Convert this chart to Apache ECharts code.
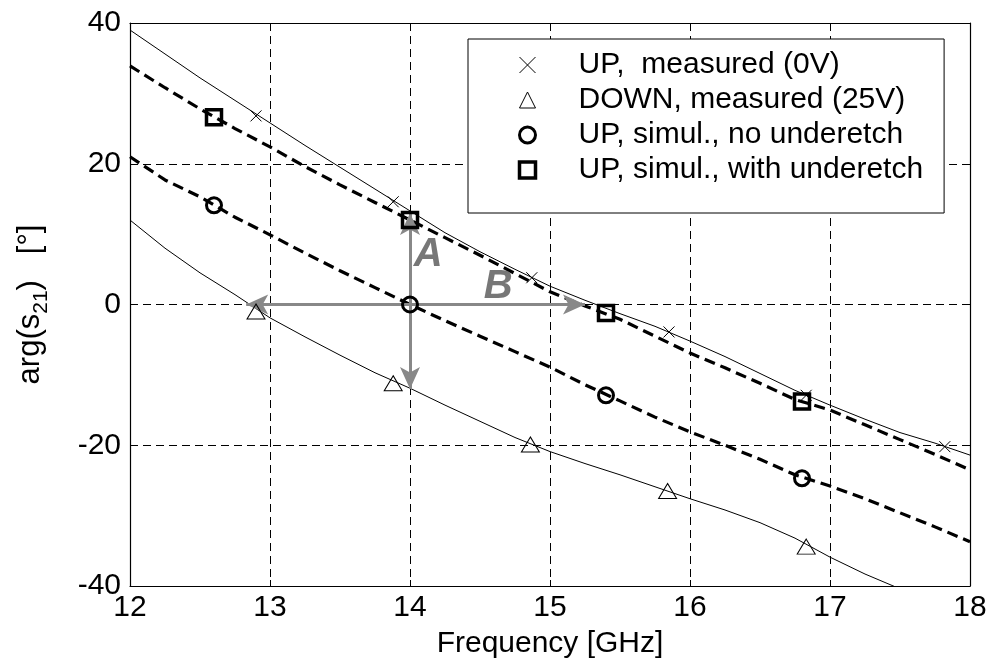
<!DOCTYPE html>
<html><head><meta charset="utf-8">
<script src="https://cdn.jsdelivr.net/npm/echarts@6/dist/echarts.min.js"></script>
<style>html,body{margin:0;padding:0;background:#fff}#c{width:990px;height:669px}</style>
</head><body><div id="c"></div>
<script>
// ---- data ----
const freq = [12,12.25,12.5,12.75,13,13.25,13.5,13.75,14,14.25,14.5,14.75,15,15.25,15.5,15.75,16,16.25,16.5,16.75,17,17.25,17.5,17.75,18];
const upMeasured   = [39.0,35.6,32.2,29.0,25.8,22.6,19.5,16.4,13.3,10.2,7.5,5.0,2.6,0.6,-1.3,-3.1,-5.2,-7.4,-9.8,-12.2,-14.3,-16.3,-18.2,-19.7,-21.4];
const downMeasured = [12.0,8.0,4.5,1.4,-1.9,-4.6,-7.2,-9.7,-11.9,-14.3,-16.6,-18.9,-20.9,-22.6,-24.2,-25.9,-27.6,-29.2,-31.0,-33.2,-35.9,-38.3,-40.4,-42.4,-44.3];
const simNoUnder   = [21.0,17.7,15.3,12.4,9.9,7.3,4.8,2.4,0.0,-2.3,-4.5,-6.7,-8.9,-11.4,-13.7,-16.0,-18.1,-20.0,-22.0,-24.2,-25.8,-27.6,-29.6,-31.6,-33.7];
const simUnder     = [33.9,30.8,27.8,25.0,22.4,19.6,17.0,14.5,12.0,9.5,7.0,4.4,1.8,-0.2,-2.1,-4.5,-6.9,-9.0,-11.2,-13.5,-15.0,-17.1,-19.2,-21.3,-23.5];

const upMarkX   = [12.9,13.88,14.87,15.85,16.83,17.82];
const upMarkY   = [26.8,14.6,3.8,-3.9,-12.9,-20.2];
const downMarkX = [12.9,13.88,14.86,15.84,16.83];
const downMarkY = [-1.0,-11.2,-19.9,-26.5,-34.4];
const simMarkX  = [12.6,14.0,15.4,16.8];
const simNoMarkY    = [14.1,0.0,-12.9,-24.7];
const simUnderMarkY = [26.6,12.0,-1.2,-13.8];

const legendNames = ['UP,  measured (0V)','DOWN, measured (25V)','UP, simul., no underetch','UP, simul., with underetch'];
const xName = 'Frequency [GHz]';
const arrowOrigin = [14,0];
const arrowTips = [[14,13],[14,-12],[12.83,0],[15.25,0]];
const annoText = ['A','B'];
const annoX = [14.13,14.63];
const annoY = [7.0,2.5];

// ---- chart ----
const FONT = '"Liberation Sans", Arial, Helvetica, sans-serif';
const FS = 30;
const zip = (xs, ys) => xs.map((x,i)=>[x, ys[i]]);
const crossPath = 'path://M0,0L10,10M10,0L0,10';

const lineSeries = (name, ys, dashed) => ({
  name, type:'line', data: zip(freq, ys), showSymbol:false, symbol:'none', smooth:false,
  lineStyle: dashed ? {color:'#000', width:3.2, type:[11,6]} : {color:'#000', width:1},
  z:2, silent:true, clip:true
});

const chart = echarts.init(document.getElementById('c'), null, {renderer:'canvas'});
chart.setOption({
  animation:false,
  backgroundColor:'#fff',
  grid:{left:130, right:20, top:23, bottom:83, outerBoundsMode:'none'},
  legend:{
    orient:'vertical', left:468, top:39, selectedMode:false,
    backgroundColor:'#fff', borderColor:'#000', borderWidth:1, borderRadius:0,
    padding:[11,21,28,49], itemGap:5, itemWidth:16, itemHeight:16,
    textStyle:{fontSize:FS, fontFamily:FONT, color:'#000', padding:[0,0,0,38]},
    data:[
      {name:legendNames[0], icon:crossPath, itemStyle:{color:'none', borderColor:'#000', borderWidth:1, opacity:1}},
      {name:legendNames[1], icon:'triangle', itemStyle:{color:'none', borderColor:'#000', borderWidth:1, opacity:1}},
      {name:legendNames[2], icon:'circle', itemStyle:{color:'none', borderColor:'#000', borderWidth:3, opacity:1}},
      {name:legendNames[3], icon:'rect', itemStyle:{color:'none', borderColor:'#000', borderWidth:3.5, opacity:1}}
    ]
  },
  xAxis:[{
    type:'value', min:12, max:18, interval:1, position:'bottom',
    axisLine:{show:true, onZero:false, lineStyle:{color:'#000', width:1.2}},
    axisTick:{show:true, inside:true, length:6, lineStyle:{color:'#000'}},
    axisLabel:{fontSize:FS, color:'#000', fontFamily:FONT, margin:7},
    splitLine:{show:true, lineStyle:{color:'#000', width:1, type:[8,5]}},
    name:xName, nameLocation:'middle', nameGap:43,
    nameTextStyle:{fontSize:FS, color:'#000', fontFamily:FONT}
  },{
    type:'value', min:12, max:18, interval:1, position:'top',
    axisLine:{show:true, onZero:false, lineStyle:{color:'#000', width:1.2}},
    axisTick:{show:true, inside:true, length:6, lineStyle:{color:'#000'}},
    axisLabel:{show:false}, splitLine:{show:false}
  }],
  yAxis:[{
    type:'value', min:-40, max:40, interval:20, position:'left',
    axisLine:{show:true, onZero:false, lineStyle:{color:'#000', width:1.2}},
    axisTick:{show:true, inside:true, length:6, lineStyle:{color:'#000'}},
    axisLabel:{fontSize:FS, color:'#000', fontFamily:FONT, margin:9},
    splitLine:{show:true, lineStyle:{color:'#000', width:1, type:[8,5]}},
    name:'{n|arg(s}{s|21}{n|)   [°]}', nameLocation:'middle', nameGap:82,
    nameTextStyle:{color:'#000', fontFamily:FONT,
      rich:{
        n:{fontSize:FS+1, fontFamily:FONT, color:'#000', lineHeight:36, verticalAlign:'middle'},
        s:{fontSize:21, fontFamily:FONT, color:'#000', lineHeight:22, verticalAlign:'bottom', padding:[0,0,-4,0]}
      }}
  },{
    type:'value', min:-40, max:40, interval:20, position:'right',
    axisLine:{show:true, onZero:false, lineStyle:{color:'#000', width:1.2}},
    axisTick:{show:true, inside:true, length:6, lineStyle:{color:'#000'}},
    axisLabel:{show:false}, splitLine:{show:false}
  }],
  series:[
    lineSeries('upLine', upMeasured, false),
    lineSeries('downLine', downMeasured, false),
    lineSeries('simNoLine', simNoUnder, true),
    lineSeries('simUnderLine', simUnder, true),
    {name:'arrows', type:'line', data:[], silent:true, z:4,
      markLine:{silent:true, symbol:['none','arrow'], symbolSize:[15,22], animation:false,
        lineStyle:{color:'#888', width:3, type:'solid'}, label:{show:false},
        emphasis:{disabled:true},
        data: arrowTips.map(t=>[{coord:arrowOrigin},{coord:t}])}},
    {name:legendNames[0], type:'scatter', data:zip(upMarkX, upMarkY), symbol:crossPath, symbolSize:11,
      itemStyle:{color:'none', borderColor:'#000', borderWidth:1, opacity:1}, z:5, silent:true},
    {name:legendNames[1], type:'scatter', data:zip(downMarkX, downMarkY), symbol:'triangle', symbolSize:[18,15],
      itemStyle:{color:'none', borderColor:'#000', borderWidth:1, opacity:1}, z:5, silent:true},
    {name:legendNames[2], type:'scatter', data:zip(simMarkX, simNoMarkY), symbol:'circle', symbolSize:15,
      itemStyle:{color:'none', borderColor:'#000', borderWidth:3, opacity:1}, z:5, silent:true},
    {name:legendNames[3], type:'scatter', data:zip(simMarkX, simUnderMarkY), symbol:'rect', symbolSize:15,
      itemStyle:{color:'none', borderColor:'#000', borderWidth:3.5, opacity:1}, z:5, silent:true},
    {name:'labels', type:'scatter', symbolSize:0, silent:true, z:6,
      data: annoText.map((t,i)=>({name:t, value:[annoX[i], annoY[i]]})),
      label:{show:true, position:'inside', formatter:'{b}', fontSize:40, fontWeight:'bold', fontStyle:'italic',
        color:'#555', fontFamily:FONT}}
  ]
});
</script></body></html>
